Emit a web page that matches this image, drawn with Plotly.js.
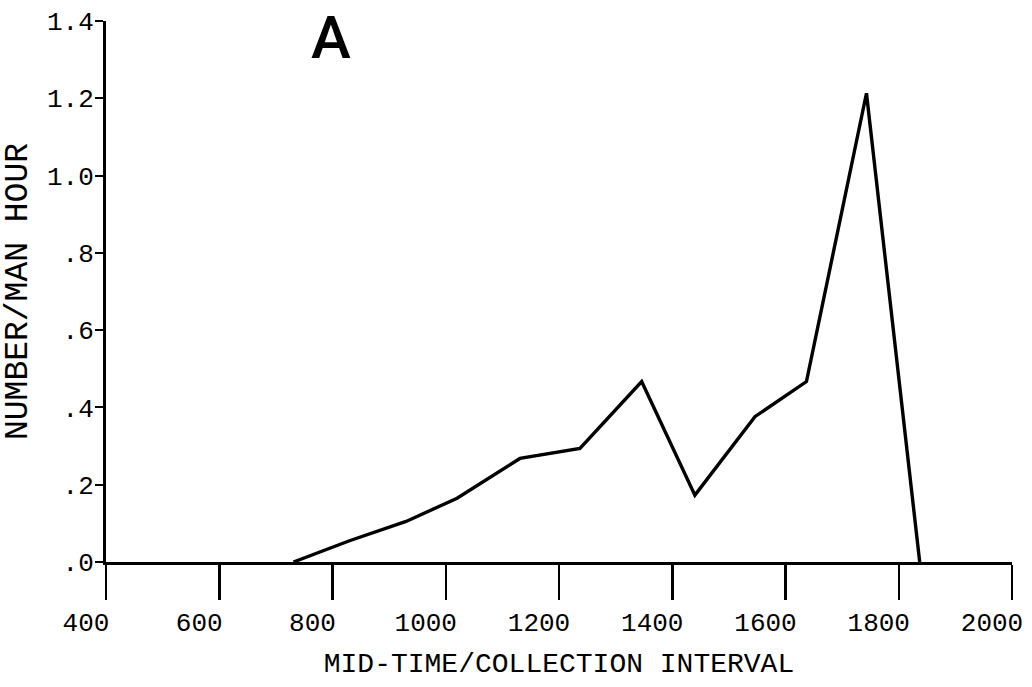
<!DOCTYPE html>
<html>
<head>
<meta charset="utf-8">
<script src="https://cdn.plot.ly/plotly-3.0.1.min.js"></script>
<style>
  html, body { margin: 0; padding: 0; background: #ffffff; }
  #chart { width: 1032px; height: 687px; }
</style>
</head>
<body>
<div id="chart"></div>
<script>
// Data
const midTimes = [731, 830, 930, 1020, 1131, 1237, 1346, 1440, 1546, 1637, 1743, 1837];
const numberPerManHour = [0.0, 0.055, 0.105, 0.165, 0.268, 0.294, 0.467, 0.173, 0.376, 0.467, 1.213, 0.0];

const xTickValues = [400, 600, 800, 1000, 1200, 1400, 1600, 1800, 2000];
const xTickLabels = ["400", "600", "800", "1000", "1200", "1400", "1600", "1800", "2000"];
const yTickValues = [0, 0.2, 0.4, 0.6, 0.8, 1.0, 1.2, 1.4];
const yTickLabels = [".0", ".2", ".4", ".6", ".8", "1.0", "1.2", "1.4"];

const panelLabel = "A";
const xTitle = "MID-TIME/COLLECTION INTERVAL";
const yTitle = "NUMBER/MAN HOUR";

const mono = "Liberation Mono, Courier New, monospace";

const trace = {
  x: midTimes,
  y: numberPerManHour,
  type: "scatter",
  mode: "lines",
  line: { color: "#000000", width: 3.4 },
  hoverinfo: "skip",
  showlegend: false
};

const layout = {
  width: 1032,
  height: 687,
  margin: { l: 106, r: 20, t: 21, b: 125 },
  paper_bgcolor: "#ffffff",
  plot_bgcolor: "#ffffff",
  showlegend: false,
  xaxis: {
    range: [400, 2000],
    tickmode: "array",
    tickvals: xTickValues,
    ticktext: xTickLabels,
    ticks: "outside",
    ticklen: 35,
    tickwidth: 2.5,
    tickcolor: "#000000",
    ticklabelshift: -20,
    showline: true,
    linecolor: "#000000",
    linewidth: 3,
    showgrid: false,
    zeroline: false,
    tickfont: { family: mono, size: 26, color: "#000000" },
    title: {
      text: xTitle,
      font: { family: mono, size: 28, color: "#000000" },
      standoff: 15
    }
  },
  yaxis: {
    range: [0, 1.4],
    tickmode: "array",
    tickvals: yTickValues,
    ticktext: yTickLabels,
    ticks: "outside",
    ticklen: 8,
    tickwidth: 2,
    tickcolor: "#000000",
    ticklabelstandoff: -4,
    showline: true,
    linecolor: "#000000",
    linewidth: 3,
    showgrid: false,
    zeroline: false,
    tickfont: { family: mono, size: 26, color: "#000000" },
    title: {
      text: yTitle,
      font: { family: mono, size: 33, color: "#000000" },
      standoff: 18
    }
  },
  annotations: [{
    text: panelLabel,
    xref: "paper", yref: "paper",
    x: 0.248, y: 1.037,
    xanchor: "center", yanchor: "top",
    borderpad: 0,
    showarrow: false,
    font: { family: "Roboto, Liberation Sans, Arial, sans-serif", size: 60, color: "#000000", weight: 500 }
  }]
};

Plotly.newPlot("chart", [trace], layout, { displayModeBar: false, staticPlot: true });
</script>
</body>
</html>
